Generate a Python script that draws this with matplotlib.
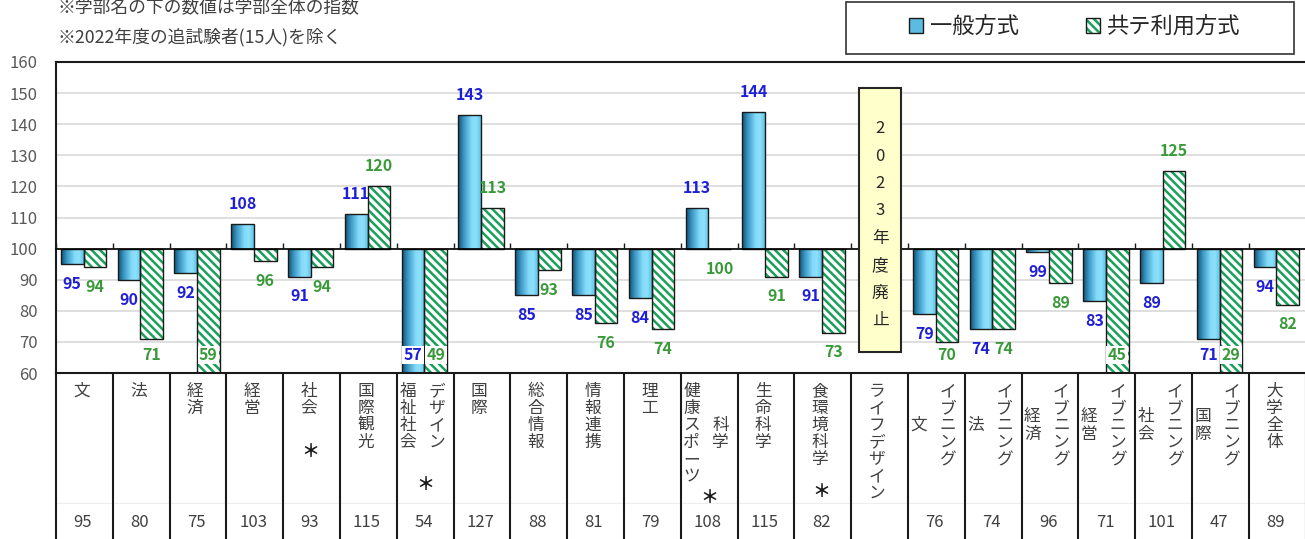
import numpy as np
import matplotlib
matplotlib.use("Agg")
import matplotlib.pyplot as plt
from matplotlib.colors import LinearSegmentedColormap
from matplotlib.patches import Rectangle
from matplotlib.legend_handler import HandlerTuple

plt.rcParams["font.family"] = ["Noto Sans CJK JP", "DejaVu Sans"]
plt.rcParams["hatch.linewidth"] = 1.8

# --- data ---
dept_left = ["文", "法", "経済", "経営", "社会", "国際観光", "福祉社会", "国際", "総合情報",
             "情報連携", "理工", "健康スポーツ", "生命科学", "食環境科学", "ライフデザイン",
             "文", "法", "経済", "経営", "社会", "国際", "大学全体"]
dept_right = ["", "", "", "", "", "", "デザイン", "", "", "", "", "科学", "", "", "",
              "イブニング", "イブニング", "イブニング", "イブニング", "イブニング", "イブニング", ""]
dept_mark = [False, False, False, False, True, False, True, False, False, False, False,
             True, False, True, False, False, False, False, False, False, False, False]
dept_index = [95, 80, 75, 103, 93, 115, 54, 127, 88, 81, 79, 108, 115, 82, None,
              76, 74, 96, 71, 101, 47, 89]
general = [95, 90, 92, 108, 91, 111, 57, 143, 85, 85, 84, 113, 144, 91, np.nan,
           79, 74, 99, 83, 89, 71, 94]
kyote = [94, 71, 59, 96, 94, 120, 49, 113, 93, 76, 74, 100, 91, 73, np.nan,
         70, 74, 89, 45, 125, 29, 82]
series_names = ["一般方式", "共テ利用方式"]
notes = ["※学部名の下の数値は学部全体の指数", "※2022年度の追試験者(15人)を除く"]
closed_idx = 14
closed_text = "2023年度廃止"

BASE = 100
YMIN, YMAX = 60, 160
BLUE_TXT = "#1f1fd6"
GREEN_TXT = "#3a9a3a"
HATCH_GREEN = "#19a05a"
TXT = "#404040"

fig = plt.figure(figsize=(13.05, 5.39), dpi=100)
L = 56 / 1305
AW = 1249.6 / 1305
TH = 166 / 539
ax = fig.add_axes([L, TH, AW, 311 / 539])

n = len(dept_left)
x = np.arange(n)
W = 0.4
gen = np.array(general, float)
kyo = np.array(kyote, float)
mb = np.isfinite(gen)
mg = np.isfinite(kyo)
xb = x[mb] - 0.215
xg = x[mg] + 0.185

# blue bars with horizontal gradient
blue_cmap = LinearSegmentedColormap.from_list(
    "bl", [(0, "#145273"), (0.25, "#3a97c4"), (0.6, "#84dbfa"), (0.8, "#8de0fb"), (1, "#5fc2e8")])
bars_b = ax.bar(xb, gen[mb] - BASE, W, bottom=BASE, color="#5bbbe0", edgecolor="none", zorder=2)
grad = np.linspace(0, 1, 64).reshape(1, -1)
for rect in bars_b:
    x0, y0 = rect.get_xy()
    y1 = y0 + rect.get_height()
    lo, hi = max(min(y0, y1), YMIN), max(y0, y1)
    im = ax.imshow(grad, cmap=blue_cmap, extent=(x0, x0 + rect.get_width(), lo, hi),
                   aspect="auto", interpolation="bilinear", zorder=2.1)
    im.set_clip_path(rect)
out_b = ax.bar(xb, gen[mb] - BASE, W, bottom=BASE, facecolor="none", edgecolor="#1a1a1a", linewidth=1, zorder=2.2)

# green hatched bars
bars_g = ax.bar(xg, kyo[mg] - BASE, W, bottom=BASE, facecolor="white", edgecolor=HATCH_GREEN,
                hatch="\\\\\\\\", linewidth=0, zorder=2)
out_g = ax.bar(xg, kyo[mg] - BASE, W, bottom=BASE, facecolor="none", edgecolor="#1a1a1a", linewidth=1, zorder=2.2)


def put_label(xc, v, color):
    if v > BASE:
        y = v + 6.4
    else:
        y = max(v - 6.4, 65.8)
    bbox = dict(facecolor="white", edgecolor="none", pad=1) if v < 62 else None
    ax.text(xc, y, f"{v:.0f}", ha="center", va="center", color=color, fontsize=11.5,
            fontweight="bold", bbox=bbox, zorder=5)


for xc, v in zip(xb, gen[mb]):
    put_label(xc, v, BLUE_TXT)
for xc, v in zip(xg, kyo[mg]):
    put_label(xc, v, GREEN_TXT)

# discontinued note box
ax.add_patch(Rectangle((closed_idx - 0.36, 66.8), 0.74, 84.8, facecolor="#ffffcc",
                       edgecolor="#262626", linewidth=1.5, zorder=3))
for k, ch in enumerate(closed_text):
    ax.text(closed_idx + 0.01, 138.5 - 8.8 * k, ch, ha="center", va="center", fontsize=12,
            color="#262626", zorder=4)

ax.set_xlim(-0.5, n - 0.5)
ax.set_ylim(YMIN, YMAX)
ax.set_yticks(np.arange(YMIN, YMAX + 1, 10))
ax.yaxis.grid(True, color="#d9d9d9", linewidth=1.2)
ax.set_axisbelow(True)
ax.tick_params(axis="y", length=0, pad=13, labelsize=12, labelcolor="#595959")
ax.set_xticks(np.arange(-0.5, n, 1))
ax.set_xticklabels([])
ax.tick_params(axis="x", direction="in", length=4, width=1, color="#1a1a1a")
ax.spines["bottom"].set_position(("data", BASE))
ax.spines["bottom"].set_linewidth(1.2)
ax.spines["right"].set_visible(False)
for s in ("left", "top"):
    ax.spines[s].set_linewidth(1.5)
    ax.spines[s].set_color("#1a1a1a")

# table of department names below
tax = fig.add_axes([L, 0, AW, TH])
tax.set_xlim(-0.5, n - 0.5)
tax.set_ylim(166, 0)
tax.axis("off")
tax.axhline(0, color="#1a1a1a", linewidth=1.5, clip_on=False)
tax.axhline(130.3, color="#ededed", linewidth=0.8)
tax.vlines(np.arange(-0.5, n, 1), 0, 166, color="#1a1a1a", linewidth=1.5, clip_on=False)

ROW0, PITCH = 18.5, 17
mark_row = {4: 3.55, 6: 5.5, 11: 6.25, 13: 5.9}
for i in range(n):
    left, right = dept_left[i], dept_right[i]
    if right:
        longest = max(len(left), len(right))
        cols = [(left, i - 0.31), (right, i + 0.2)]
    else:
        longest = len(left)
        cols = [(left, i - 0.05)]
    for text, xc in cols:
        off = (longest - len(text)) / 2
        for k, ch in enumerate(text):
            tax.text(xc, ROW0 + PITCH * (k + off), ch, ha="center", va="center", fontsize=12, color=TXT)
    if dept_mark[i]:
        xm = i - 0.02 if not right else i
        tax.text(xm, ROW0 + PITCH * mark_row[i], "＊", ha="center", va="center", fontsize=13,
                 fontweight="bold", color="#1a1a1a")
    if dept_index[i] is not None:
        tax.text(i - 0.03, 149.5, str(dept_index[i]), ha="center", va="center", fontsize=12, color=TXT)

# notes and legend
for k, t in enumerate(notes):
    fig.text(58 / 1305, 1 - (7 + 30 * k) / 539, t, ha="left", va="center", fontsize=12.8, color=TXT)

fig.patches.append(Rectangle((846 / 1305, 1 - 54 / 539), 448 / 1305, 52 / 539, transform=fig.transFigure,
                             facecolor="white", edgecolor="#333333", linewidth=1.2, zorder=0))
fig.legend([(bars_b, out_b), (bars_g, out_g)], series_names,
           handler_map={tuple: HandlerTuple(ndivide=1)},
           loc="center", bbox_to_anchor=(1074.5 / 1305, 1 - 27 / 539), ncol=2, frameon=False,
           fontsize=16, handlelength=0.65, handleheight=0.65, handletextpad=0.3, columnspacing=3.0,
           labelcolor="#262626")

fig.savefig("out.png", dpi=100)
